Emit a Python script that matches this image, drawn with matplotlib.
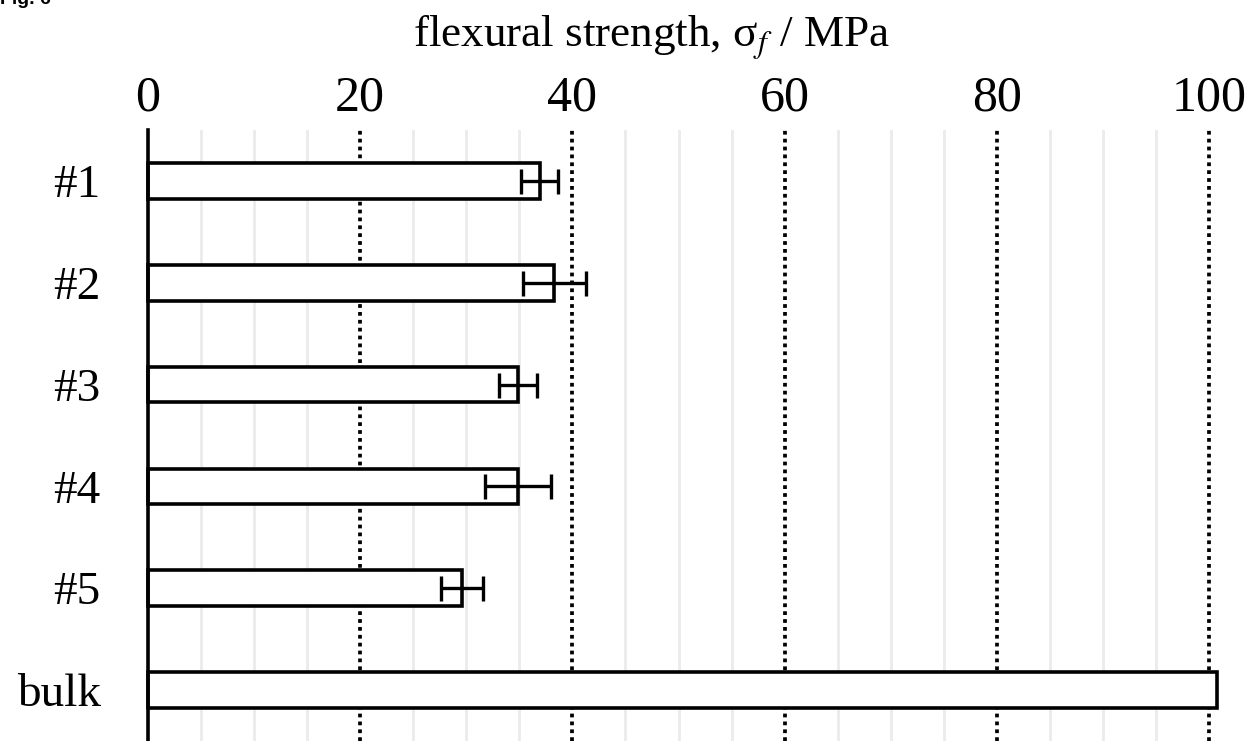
import matplotlib
matplotlib.use("Agg")
import matplotlib.pyplot as plt
import numpy as np

plt.rcParams['font.family'] = ['Liberation Serif', 'DejaVu Serif']
plt.rcParams['mathtext.fontset'] = 'stix'

# data
samples = ["#1", "#2", "#3", "#4", "#5", "bulk"]
strength = [36.9, 38.3, 34.9, 34.9, 29.6, 100.8]
err = [1.7, 3.0, 1.8, 3.1, 2.0, 0.0]

fig = plt.figure(figsize=(12.58, 7.41), dpi=100)
ax = fig.add_axes([148/1258, 0, (1209-148)/1258, 611/741])

y = np.arange(len(samples))
ax.barh(y, strength, height=0.35, color="white", edgecolor="black",
        linewidth=2.6, zorder=3, clip_on=False)
# error bars only where there is scatter
yy = [i for i, e in enumerate(err) if e > 0]
ax.errorbar([strength[i] for i in yy], yy, xerr=[err[i] for i in yy],
            fmt="none", ecolor="black", elinewidth=2.4, capsize=9,
            capthick=2.4, zorder=4)

ax.set_xlim(0, 100)
ax.set_ylim(len(samples) - 0.5, -0.5)
ax.set_yticks(y)
ax.set_yticklabels(samples, fontsize=34)
ax.set_xticks(np.arange(0, 101, 20))
ax.set_xticks(np.arange(0, 101, 5), minor=True)
ax.xaxis.tick_top()
ax.tick_params(axis="x", which="both", length=0, labelsize=36, pad=6)
ax.tick_params(axis="y", length=0, pad=34)

for v in np.arange(5, 100, 5):
    if v % 20:
        ax.axvline(v, color="#ebebeb", linewidth=2, zorder=1)
for v in np.arange(20, 101, 20):
    ax.axvline(v, color="black", linestyle=(0, (1, 1.1)), linewidth=2.7,
               zorder=2, clip_on=False)

for s in ["top", "right", "bottom"]:
    ax.spines[s].set_visible(False)
ax.spines["left"].set_linewidth(2.6)
ax.spines["left"].set_zorder(5)

fig.text(652/1258, 1 - 47/741, "flexural strength, σ$_f$ / MPa",
         ha="center", va="baseline", fontsize=32.5)
fig.text(0.0, 1 - 4/741, "Fig. 6", ha="left", va="baseline",
         fontsize=14, fontweight="bold", family="Liberation Sans")

fig.savefig("out.png", dpi=100)
